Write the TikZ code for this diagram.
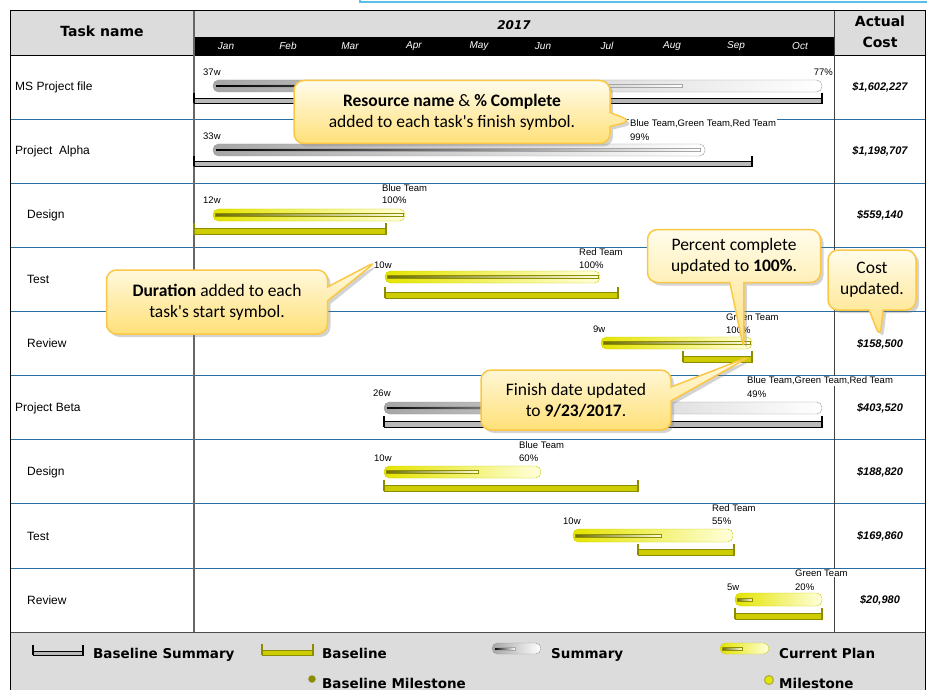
\documentclass[tikz,border=0pt]{standalone}
\usepackage{fontspec}
\setmainfont{Liberation Sans}
\newfontfamily\headfont{DejaVu Sans}
\newfontfamily\calloutfont{Carlito}
\usetikzlibrary{shapes.callouts,shadows}
\definecolor{headgray}{RGB}{220,220,220}
\definecolor{rowline}{RGB}{40,110,160}
\definecolor{planyellow}{RGB}{228,228,0}
\definecolor{planlight}{RGB}{255,255,220}
\definecolor{planedge}{RGB}{205,205,0}
\definecolor{olivedark}{RGB}{110,110,0}
\definecolor{baseyellow}{RGB}{204,204,0}
\definecolor{baseedge}{RGB}{140,140,0}
\definecolor{noteedge}{RGB}{250,200,70}
\definecolor{notelight}{RGB}{255,252,235}
\definecolor{notedark}{RGB}{255,224,120}
\definecolor{topcyan}{RGB}{90,190,230}

\begin{document}
\begin{tikzpicture}[x=1pt,y=-1pt,
    tname/.style={anchor=west,inner sep=0pt,font=\fontsize{12}{14}\selectfont},
    cost/.style={inner sep=0pt,font=\fontsize{11}{13}\selectfont\bfseries\itshape},
    lbl/.style={anchor=west,inner sep=1pt,font=\fontsize{9.5}{11}\selectfont},
    team/.style={lbl,fill=white},
    month/.style={text=white,inner sep=0pt,font=\fontsize{10}{12}\selectfont\itshape},
    head/.style={inner sep=0pt,align=center,font=\headfont\bfseries\fontsize{14}{21}\selectfont},
    legtext/.style={anchor=base west,inner sep=0pt,font=\headfont\bfseries\fontsize{13.5}{16}\selectfont},
    sumbar/.style={rounded corners=5.5pt,left color=gray!70,right color=white,draw=gray!80},
    planbar/.style={rounded corners=5.5pt,left color=planyellow,right color=planlight,draw=planedge},
    sumprog/.style={left color=black,right color=white,draw=gray!70,line width=0.3pt},
    planprog/.style={left color=olivedark,right color=planlight,draw=planedge!70!black,line width=0.3pt},
    basesum/.style={fill=gray!55,draw=black,line width=0.8pt},
    basebar/.style={fill=baseyellow,draw=baseedge,line width=0.8pt},
    sumtick/.style={draw=black,line width=1.2pt},
    basetick/.style={draw=baseedge,line width=1.2pt},
    note/.style={rectangle callout,rounded corners=10pt,draw=noteedge,line width=1.5pt,
        top color=notelight,bottom color=notedark,align=center,
        font=\calloutfont\fontsize{17.5}{21}\selectfont,
        drop shadow={opacity=0.35,shadow xshift=3pt,shadow yshift=-3pt},
        callout pointer width=14pt}]
    \useasboundingbox (0,0) rectangle (927,690);

    % frame and header
    \draw[topcyan,line width=1.2pt] (360,-5) rectangle (935,2);
    \fill[headgray] (10,11) rectangle (925,55);
    \fill[headgray] (10,632) rectangle (925,700);
    \fill[black] (194,37) rectangle (834,55);
    \foreach \y in {119,183,247,311,375,439,503,568}
        \draw[rowline,line width=0.8pt] (10,\y) -- (925,\y);
    \draw[black,line width=0.8pt] (10,55) -- (925,55);
    \draw[black!70,line width=0.8pt] (10,632) -- (925,632);
    \draw[gray!80!black,line width=1.2pt] (194,11) -- (194,632);
    \draw[black!75,line width=1pt] (834,11) -- (834,632);
    \draw[black,line width=1pt] (10,700) -- (10,11) -- (925,11) -- (925,700);

    \node[head] (hdrtask) at (102,31) {Task name};
    \node[head,font=\headfont\bfseries\itshape\fontsize{12}{14}\selectfont] (hdryear) at (514,25) {2017};
    \node[head] (hdrcost) at (880,32) {Actual\\Cost};
    \foreach \m/\x in {Jan/226,Feb/288,Mar/350,Apr/414,May/479,Jun/543,Jul/607,Aug/672,Sep/736,Oct/800}
        \node[month] (m\m) at (\x,46) {\m};

    % task names
    \node[tname] (t1) at (15,87) {MS Project file};
    \node[tname] (t2) at (15,151) {Project\ \ Alpha};
    \node[tname] (t3) at (27,215) {Design};
    \node[tname] (t4) at (27,279) {Test};
    \node[tname] (t5) at (27,343) {Review};
    \node[tname] (t6) at (15,408) {Project Beta};
    \node[tname] (t7) at (27,472) {Design};
    \node[tname] (t8) at (27,536) {Test};
    \node[tname] (t9) at (27,600) {Review};

    % actual cost
    \node[cost] (c1) at (880,87) {\$1,602,227};
    \node[cost] (c2) at (880,151) {\$1,198,707};
    \node[cost] (c3) at (880,215) {\$559,140};
    \node[cost] (c5) at (880,344) {\$158,500};
    \node[cost] (c6) at (880,408) {\$403,520};
    \node[cost] (c7) at (880,472) {\$188,820};
    \node[cost] (c8) at (880,536) {\$169,860};
    \node[cost] (c9) at (880,600) {\$20,980};

    % MS Project file
    \draw[basesum] (194,98) rectangle (822,103);
    \draw[sumtick] (194,93) -- (194,103) (822,93) -- (822,103);
    \draw[sumbar] (213,80) rectangle (822,92);
    \draw[sumprog] (215,84.5) rectangle (682,87.5);
    \node[lbl] (d1) at (202,72) {37w};
    \node[lbl,anchor=east] (p1) at (834,72) {77\%};

    % Project Alpha
    \draw[basesum] (194,161) rectangle (752,166);
    \draw[sumtick] (194,156) -- (194,166) (752,156) -- (752,166);
    \draw[sumbar] (213,144) rectangle (705,156);
    \draw[sumprog] (215,148.5) rectangle (700,151.5);
    \node[lbl] (d2) at (202,136) {33w};
    \node[team] (r2) at (629,124) {Blue Team,Green Team,Red Team};
    \node[lbl] (p2) at (629,137) {99\%};

    % Design
    \draw[basebar] (194,228) rectangle (386,234);
    \draw[basetick] (194,223) -- (194,234) (386,223) -- (386,234);
    \draw[planbar] (213,209) rectangle (405,221);
    \draw[planprog] (215,213.5) rectangle (403,216.5);
    \node[lbl] (d3) at (202,200) {12w};
    \node[team] (r3) at (381,188) {Blue Team};
    \node[lbl] (p3) at (381,200) {100\%};

    % Test
    \draw[basebar] (385,292) rectangle (618,298);
    \draw[basetick] (385,287) -- (385,298) (618,287) -- (618,298);
    \draw[planbar] (385,271) rectangle (600,283);
    \draw[planprog] (387,275.5) rectangle (598,278.5);
    \node[lbl] (d4) at (373,265) {10w};
    \node[team] (r4) at (578,252) {Red Team};
    \node[lbl] (p4) at (578,265) {100\%};

    % Review
    \draw[basebar] (683,356) rectangle (752,362);
    \draw[basetick] (683,351) -- (683,362) (752,351) -- (752,362);
    \draw[planbar] (601,337) rectangle (752,349);
    \draw[planprog] (603,341.5) rectangle (750,344.5);
    \node[lbl] (d5) at (592,329) {9w};
    \node[team] (r5) at (725,317) {Green Team};
    \node[lbl] (p5) at (725,330) {100\%};

    % Project Beta
    \draw[basesum] (384,421) rectangle (822,427);
    \draw[sumtick] (384,416) -- (384,427) (822,416) -- (822,427);
    \draw[sumbar] (384,402) rectangle (822,414);
    \draw[sumprog] (386,406.5) rectangle (599,409.5);
    \node[lbl] (d6) at (372,393) {26w};
    \node[team] (r6) at (746,381) {Blue Team,Green Team,Red Team};
    \node[lbl] (p6) at (746,394) {49\%};

    % Design
    \draw[basebar] (384,485) rectangle (638,491);
    \draw[basetick] (384,480) -- (384,491) (638,480) -- (638,491);
    \draw[planbar] (384,466) rectangle (541,478);
    \draw[planprog] (386,470.5) rectangle (478,473.5);
    \node[lbl] (d7) at (373,458) {10w};
    \node[team] (r7) at (518,445) {Blue Team};
    \node[lbl] (p7) at (518,458) {60\%};

    % Test
    \draw[basebar] (638,549) rectangle (734,555);
    \draw[basetick] (638,544) -- (638,555) (734,544) -- (734,555);
    \draw[planbar] (573,529) rectangle (733,542);
    \draw[planprog] (575,534) rectangle (661,537);
    \node[lbl] (d8) at (562,521) {10w};
    \node[team] (r8) at (711,508) {Red Team};
    \node[lbl] (p8) at (711,521) {55\%};

    % Review
    \draw[basebar] (735,613) rectangle (822,619);
    \draw[basetick] (735,608) -- (735,619) (822,608) -- (822,619);
    \draw[planbar] (735,593) rectangle (822,606);
    \draw[planprog] (737,598) rectangle (752,601);
    \node[lbl] (d9) at (726,587) {5w};
    \node[team] (r9) at (794,573) {Green Team};
    \node[lbl] (p9) at (794,587) {20\%};

    % legend
    \draw[basesum] (33,651) rectangle (83,655);
    \draw[sumtick] (33,645) -- (33,655) (83,645) -- (83,655);
    \node[legtext] (lg1) at (93,658) {Baseline Summary};
    \draw[basebar] (262,650) rectangle (313,655);
    \draw[basetick] (262,644) -- (262,655) (313,644) -- (313,655);
    \node[legtext] (lg2) at (322,658) {Baseline};
    \draw[sumbar] (492,643) rectangle (541,654);
    \draw[sumprog] (494,647) rectangle (515,650);
    \node[legtext] (lg3) at (551,658) {Summary};
    \draw[planbar] (720,643) rectangle (769,654);
    \draw[planprog] (722,647) rectangle (742,650);
    \node[legtext] (lg4) at (779,658) {Current Plan};
    \draw[fill=baseedge,draw=gray!30,line width=1.2pt] (312,679) circle (4.5);
    \node[legtext] (lg5) at (322,688) {Baseline Milestone};
    \draw[fill=planyellow,draw=baseedge!70,line width=1.2pt] (769,680) circle (4.5);
    \node[legtext] (lg6) at (779,688) {Milestone};

    % callouts
    \node[note,minimum width=316pt,minimum height=63pt,callout absolute pointer={(632,121)}] (n1) at (452,112)
        {\textbf{Resource name} \& \textbf{\% Complete}\\added to each task's finish symbol.};
    \node[note,minimum width=221pt,minimum height=64pt,callout absolute pointer={(377,261)}] (n2) at (217,302)
        {\textbf{Duration} added to each\\task's start symbol.};
    \node[note,minimum width=173pt,minimum height=53pt,callout absolute pointer={(744,350)}] (n3) at (734,256)
        {Percent complete\\updated to \textbf{100\%}.};
    \node[note,minimum width=88pt,minimum height=60pt,callout absolute pointer={(880,338)}] (n4) at (872,280)
        {Cost\\updated.};
    \node[note,minimum width=190pt,minimum height=60pt,callout absolute pointer={(751,356)}] (n5) at (576,400)
        {Finish date updated\\to \textbf{9/23/2017}.};
\end{tikzpicture}
\end{document}
